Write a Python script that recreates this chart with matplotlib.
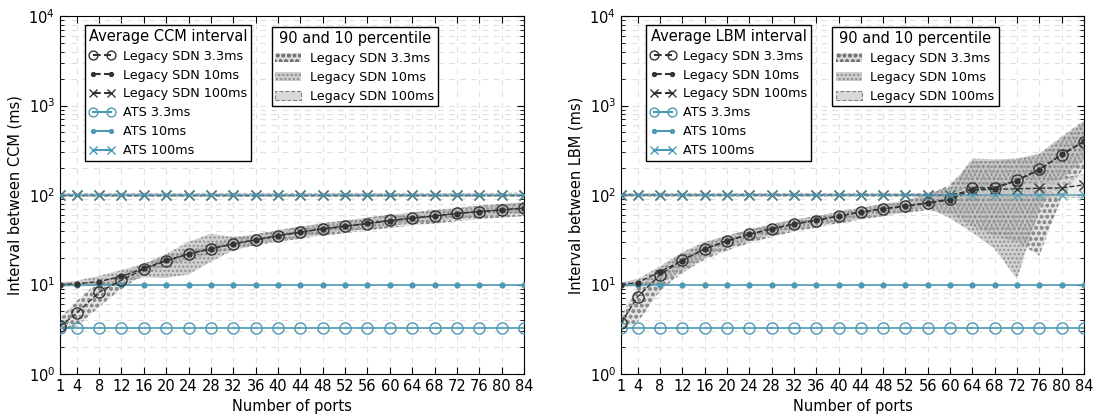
import matplotlib
matplotlib.use('Agg')
import matplotlib.pyplot as plt
from matplotlib.patches import Patch
from matplotlib.lines import Line2D

# 数据
ports = [1, 4, 8, 12, 16, 20, 24, 28, 32, 36, 40, 44, 48, 52, 56, 60, 64, 68, 72, 76, 80, 84]

# CCM
ccm_legacy_33 = [3.4, 4.8, 8.2, 11.2, 14.9, 18.4, 21.8, 24.9, 28.6, 31.4, 35, 38.3, 41.7, 44.7, 47.8, 52, 55, 58.2, 62.4, 65, 68, 71]
ccm_legacy_10 = [10, 10.2, 10.8, 12.3, 15.2, 18.6, 22, 25.2, 28.4, 31.6, 35.2, 38.6, 41.9, 45, 48.2, 51.6, 55.3, 58.5, 62, 65.4, 68.3, 71.2]
ccm_legacy_100 = [100, 100, 100, 100, 100, 100, 100, 100, 100, 100, 100, 100, 100, 100, 100, 100, 100, 100, 100, 100, 100, 100]
ccm_33_low = [3.0, 3.4, 5.6, 9.0, 12.8, 16.0, 19.0, 22.0, 25.0, 27.5, 30.0, 32.5, 35.0, 37.5, 40.0, 43.0, 45.5, 48.0, 51.0, 53.5, 56.0, 58.0]
ccm_33_high = [4.2, 6.6, 10.8, 13.0, 17.0, 21.0, 25.0, 28.5, 33.0, 36.5, 40.5, 44.5, 48.5, 52.0, 56.0, 60.5, 64.0, 68.0, 72.5, 76.0, 80.0, 84.0]
ccm_10_low = [9.5, 9.5, 9.8, 10.5, 12.0, 11.8, 13.0, 18.0, 24.0, 27.5, 30.5, 33.5, 36.5, 39.0, 42.0, 45.0, 48.0, 51.0, 54.0, 57.0, 59.5, 62.0]
ccm_10_high = [10.5, 11.0, 12.5, 14.5, 17.0, 22.0, 30.0, 37.0, 34.0, 36.0, 40.0, 44.0, 48.0, 51.5, 55.0, 59.0, 63.0, 67.0, 71.0, 75.0, 78.5, 82.0]
ccm_100_low = [96, 96, 96, 96, 96, 96, 96, 96, 96, 96, 96, 96, 96, 96, 96, 96, 96, 96, 96, 96, 96, 96]
ccm_100_high = [104, 104, 104, 104, 104, 104, 104, 104, 104, 104, 104, 104, 104, 104, 104, 104, 104, 104, 104, 104, 104, 106]

# LBM
lbm_legacy_33 = [3.7, 7.3, 12.8, 18.8, 24.9, 30.9, 36.3, 41.7, 47.4, 51.6, 58.2, 64.6, 70.3, 75.4, 82, 90, 121, 121, 147, 194, 281, 394]
lbm_legacy_10 = [10, 10.5, 13.9, 18.5, 25, 30.5, 36.5, 42, 47.5, 52.5, 58, 64.5, 70, 75, 81, 88, 115, 118, 145, 190, 285, 400]
lbm_legacy_100 = [100, 100, 100, 100, 100, 100, 100, 100, 100, 100, 100, 100, 100, 100, 100, 100, 113, 116, 117, 119, 120, 130]
lbm_33_low = [3.2, 3.8, 8.5, 13.5, 19, 24, 29, 34, 39, 43, 48, 53, 58, 63, 68, 62, 45, 35, 30, 21, 95, 200]
lbm_33_high = [4.5, 9.5, 15, 22, 29, 35, 41, 47, 53, 58, 65, 72, 79, 86, 100, 130, 240, 240, 250, 280, 420, 650]
lbm_10_low = [9.4, 9.6, 10.5, 14, 20, 26, 31, 36, 41, 45, 50, 55, 60, 65, 72, 55, 38, 25, 11.5, 70, 150, 250]
lbm_10_high = [10.6, 11.5, 16, 23, 30, 35, 41, 47, 53, 58, 65, 72, 79, 86, 105, 120, 255, 250, 255, 290, 450, 680]
lbm_100_low = [96, 96, 96, 96, 96, 96, 96, 96, 96, 96, 96, 96, 96, 96, 96, 96, 95, 95, 95, 95, 94, 94]
lbm_100_high = [104, 104, 104, 104, 104, 104, 104, 104, 104, 104, 104, 104, 104, 104, 104, 106, 125, 130, 135, 140, 150, 170]

# ATS 固定值
ats_33 = [3.3] * len(ports)
ats_10 = [10] * len(ports)
ats_100 = [100] * len(ports)

xticks = [1, 4, 8, 12, 16, 20, 24, 28, 32, 36, 40, 44, 48, 52, 56, 60, 64, 68, 72, 76, 80, 84]

matplotlib.rcParams['font.family'] = ['DejaVu Sans']
matplotlib.rcParams['xtick.direction'] = 'in'
matplotlib.rcParams['ytick.direction'] = 'in'
matplotlib.rcParams['xtick.top'] = True
matplotlib.rcParams['ytick.right'] = True
matplotlib.rcParams['hatch.linewidth'] = 1.0

TEAL = '#4a9ab3'
DARK = '0.2'
HATCH = '0.45'


def draw(ax, name, leg33, leg10, leg100, b33, b10, b100):
    # 百分位区间
    ax.fill_between(ports, b33[0], b33[1], facecolor='0.85', edgecolor=HATCH,
                    hatch='ooo', linewidth=0, alpha=0.75, zorder=2)
    ax.fill_between(ports, b10[0], b10[1], facecolor='0.72', edgecolor=HATCH,
                    hatch='....', linewidth=0, alpha=0.65, zorder=2)
    ax.fill_between(ports, b100[0], b100[1], facecolor='0.85', edgecolor='0.5',
                    linestyle='--', linewidth=0.8, alpha=0.5, zorder=2)

    # ATS
    ax.plot(ports, ats_33, '-', color=TEAL, marker='o', mfc='none', mec=TEAL, ms=8, lw=1.2, zorder=4)
    ax.plot(ports, ats_10, '-', color=TEAL, marker='.', ms=7, lw=1.2, zorder=4)
    # Legacy
    ax.plot(ports, leg33, '--', color=DARK, marker='o', mfc='none', mec=DARK, ms=8, lw=1, zorder=5)
    ax.plot(ports, leg10, '--', color=DARK, marker='.', ms=7, lw=1, zorder=5)
    ax.plot(ports, leg100, '--', color=DARK, marker='x', ms=7, mew=1, lw=1, zorder=5)
    ax.plot(ports, ats_100, '-', color=TEAL, marker='x', ms=7, mew=1, lw=1.2, alpha=0.8, zorder=6)

    ax.set_yscale('log')
    ax.set_ylim(1, 1e4)
    ax.set_xlim(1, 84)
    ax.set_xticks(xticks)
    ax.tick_params(labelsize=10.5, which='major', length=5)
    ax.tick_params(which='minor', length=3)
    ax.grid(True, which='both', axis='y', color='0.88', linestyle=(0, (5, 5)), lw=0.8)
    ax.grid(True, which='major', axis='x', color='0.88', linestyle=(0, (5, 5)), lw=0.8)
    ax.set_axisbelow(True)
    ax.set_xlabel('Number of ports', fontsize=10.5)
    ax.set_ylabel('Interval between %s (ms)' % name, fontsize=10.5)

    # 图例
    h1 = [Line2D([], [], ls='--', color=DARK, marker='o', mfc='none', mec=DARK, ms=8),
          Line2D([], [], ls='--', color=DARK, marker='.', ms=7),
          Line2D([], [], ls='--', color=DARK, marker='x', ms=7),
          Line2D([], [], ls='-', color=TEAL, marker='o', mfc='none', mec=TEAL, ms=8),
          Line2D([], [], ls='-', color=TEAL, marker='.', ms=7),
          Line2D([], [], ls='-', color=TEAL, marker='x', ms=7)]
    l1 = ['Legacy SDN 3.3ms', 'Legacy SDN 10ms', 'Legacy SDN 100ms',
          'ATS 3.3ms', 'ATS 10ms', 'ATS 100ms']
    leg1 = ax.legend(h1, l1, title='Average %s interval' % name, loc='upper left',
                     bbox_to_anchor=(0.054, 0.975), borderaxespad=0, fontsize=9.2,
                     title_fontsize=10.5, numpoints=2, markerscale=0.8, handlelength=2.0,
                     handletextpad=0.6, labelspacing=0.46, borderpad=0.3, fancybox=False,
                     framealpha=1, edgecolor='black')
    leg1.get_frame().set_linewidth(1)
    ax.add_artist(leg1)

    h2 = [Patch(facecolor='0.85', edgecolor=HATCH, hatch='ooo', lw=0),
          Patch(facecolor='0.72', edgecolor=HATCH, hatch='....', lw=0, alpha=0.7),
          Patch(facecolor='0.85', edgecolor='0.5', linestyle='--', lw=0.8)]
    l2 = ['Legacy SDN 3.3ms', 'Legacy SDN 10ms', 'Legacy SDN 100ms']
    leg2 = ax.legend(h2, l2, title='90 and 10 percentile', loc='upper left',
                     bbox_to_anchor=(0.456, 0.969), borderaxespad=0, fontsize=9.2,
                     title_fontsize=10.5, handlelength=2.0, handletextpad=0.7,
                     labelspacing=0.46, borderpad=0.3, fancybox=False, framealpha=1,
                     edgecolor='black')
    leg2.get_frame().set_linewidth(1)


fig = plt.figure(figsize=(10.97, 4.16), dpi=100)
ax1 = fig.add_axes([60 / 1097, 42 / 416, 464 / 1097, 358 / 416])
ax2 = fig.add_axes([621 / 1097, 42 / 416, 463 / 1097, 358 / 416])

draw(ax1, 'CCM', ccm_legacy_33, ccm_legacy_10, ccm_legacy_100,
     (ccm_33_low, ccm_33_high), (ccm_10_low, ccm_10_high), (ccm_100_low, ccm_100_high))
draw(ax2, 'LBM', lbm_legacy_33, lbm_legacy_10, lbm_legacy_100,
     (lbm_33_low, lbm_33_high), (lbm_10_low, lbm_10_high), (lbm_100_low, lbm_100_high))

plt.savefig('out.png', dpi=100)
